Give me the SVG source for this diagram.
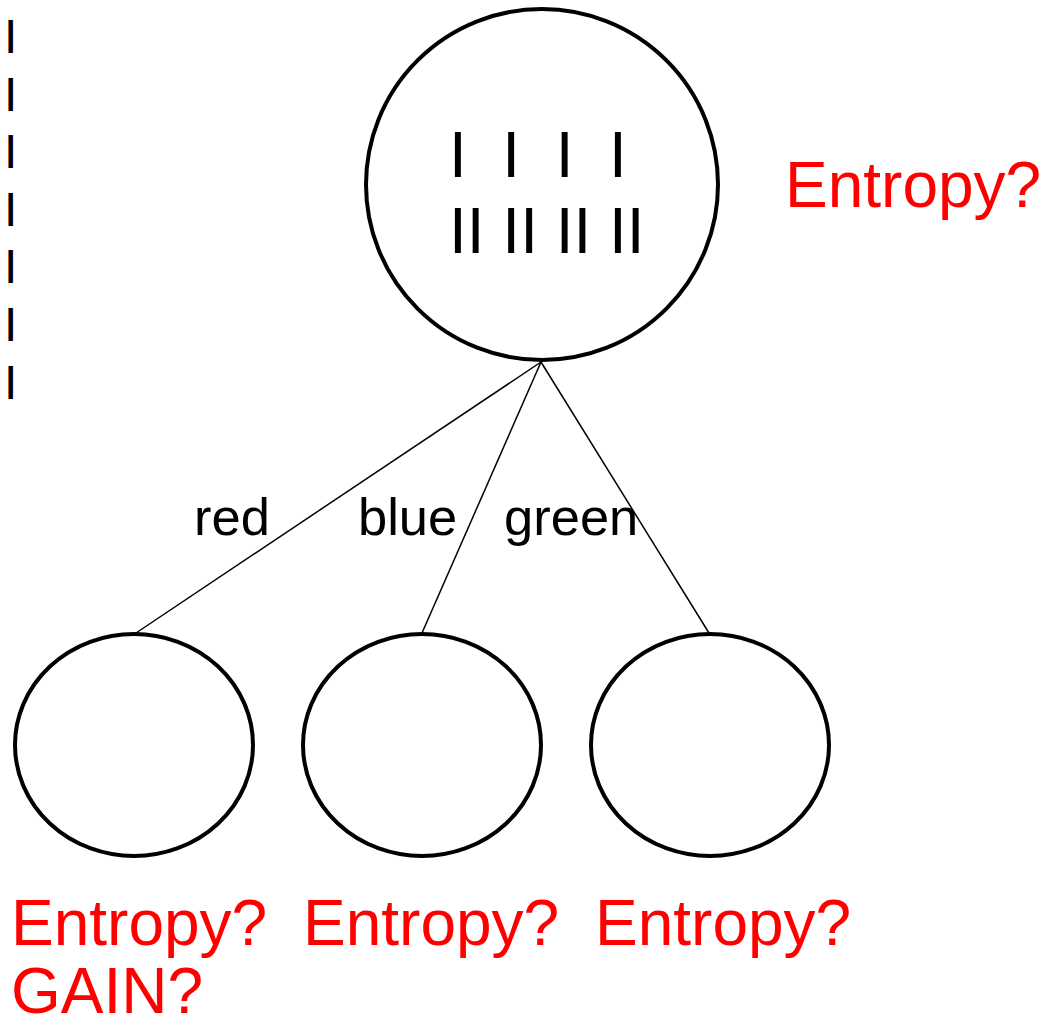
<svg xmlns="http://www.w3.org/2000/svg" width="1056" height="1027" viewBox="0 0 1056 1027">
<style>
.node{fill:#fff;stroke:#000;stroke-width:4}
.edge{stroke:#000;stroke-width:1.5;fill:none}
.mark{font-family:"Liberation Sans",Arial,sans-serif;fill:#000;white-space:pre}
.lbl{font-family:"Liberation Sans",Arial,sans-serif;font-size:52.5px;fill:#000}
.red{font-family:"Liberation Sans",Arial,sans-serif;font-size:64px;fill:#ff0000}
</style>
<rect width="1056" height="1027" fill="#fff"/>
<g id="legend-marks" class="mark" font-size="48">
<text x="4" y="53">I</text>
<text x="4" y="110.6">I</text>
<text x="4" y="168.2">I</text>
<text x="4" y="225.8">I</text>
<text x="4" y="283.4">I</text>
<text x="4" y="341">I</text>
<text x="4" y="398.6">I</text>
</g>
<g id="connectors">
<line class="edge" x1="541" y1="362" x2="136" y2="633"/>
<line class="edge" x1="541" y1="362" x2="422" y2="633"/>
<line class="edge" x1="541" y1="362" x2="709" y2="633"/>
<text class="lbl" x="194" y="535">red</text>
<text class="lbl" x="358" y="535">blue</text>
<text class="lbl" x="504" y="535">green</text>
</g>
<g id="root">
<ellipse class="node" cx="542" cy="184.5" rx="176" ry="175.5"/>
<text class="mark" font-size="64" x="449" y="177" xml:space="preserve">I  I  I  I</text>
<text class="mark" font-size="64" x="449" y="253" xml:space="preserve">II II II II</text>
<text class="red" x="785" y="207">Entropy?</text>
</g>
<g id="child-red">
<ellipse class="node" cx="134" cy="745" rx="119" ry="111"/>
<text class="red" x="11" y="945">Entropy?</text>
<text class="red" x="11" y="1013">GAIN?</text>
</g>
<g id="child-blue">
<ellipse class="node" cx="422" cy="745" rx="119" ry="111"/>
<text class="red" x="303" y="945">Entropy?</text>
</g>
<g id="child-green">
<ellipse class="node" cx="710" cy="745" rx="119" ry="111"/>
<text class="red" x="595" y="945">Entropy?</text>
</g>
</svg>
